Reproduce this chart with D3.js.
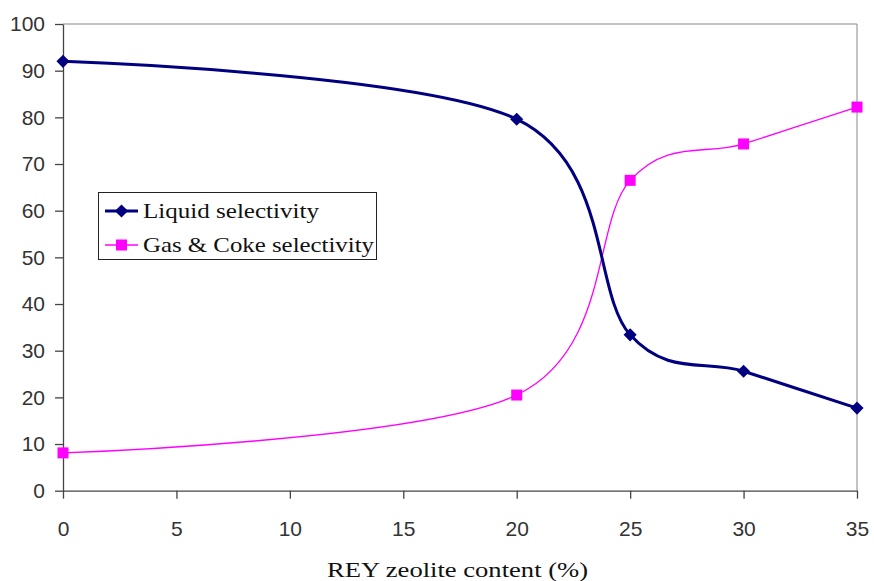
<!DOCTYPE html>
<html><head><meta charset="utf-8">
<script src="https://cdn.jsdelivr.net/npm/d3@7"></script>
<style>body{margin:0;background:#fff}</style>
</head><body>
<svg id="c" width="874" height="581"></svg>
<script>
const xValues = [0, 20, 25, 30, 35];
const liquid = [92, 79.6, 33.4, 25.6, 17.7];
const gasCoke = [8.1, 20.5, 66.5, 74.3, 82.2];
const xTicks = [0, 5, 10, 15, 20, 25, 30, 35];
const yTicks = [0, 10, 20, 30, 40, 50, 60, 70, 80, 90, 100];
const seriesNames = ["Liquid selectivity", "Gas & Coke selectivity"];
const xTitle = "REY zeolite content (%)";

const svg = d3.select("#c");
const x = d3.scaleLinear().domain([0, 35]).range([63, 857]);
const y = d3.scaleLinear().domain([0, 100]).range([490.7, 24]);

// plot border (top/right)
svg.append("path").attr("d", `M${x(0)},${y(100)}H${x(35)}V${y(0)}`)
  .attr("fill", "none").attr("stroke", "#888").attr("stroke-width", 1);

const xAxis = svg.append("g").attr("transform", `translate(0,${y(0)})`)
  .call(d3.axisBottom(x).tickValues(xTicks).tickSize(8).tickPadding(22).tickSizeOuter(0));
const yAxis = svg.append("g").attr("transform", `translate(${x(0)},0)`)
  .call(d3.axisLeft(y).tickValues(yTicks).tickSize(8).tickPadding(10).tickSizeOuter(0));
[xAxis, yAxis].forEach(g => {
  g.select(".domain").attr("stroke", "#444").attr("stroke-width", 1.3);
  g.selectAll(".tick line").attr("stroke", "#444").attr("stroke-width", 1.3);
  g.selectAll("text").attr("font-family", "Liberation Sans, Arial, sans-serif")
    .attr("font-size", 21).attr("fill", "#333");
});

const curve = d3.curveCatmullRom.alpha(0);
const line = d3.line().x(d => x(d[0])).y(d => y(d[1])).curve(curve);
const liqData = xValues.map((v, i) => [v, liquid[i]]);
const gasData = xValues.map((v, i) => [v, gasCoke[i]]);

svg.append("path").datum(gasData).attr("d", line).attr("fill", "none")
  .attr("stroke", "#FF00FF").attr("stroke-width", 1.3);
svg.append("path").datum(liqData).attr("d", line).attr("fill", "none")
  .attr("stroke", "#000080").attr("stroke-width", 3);

const diamond = d3.symbol().type(d3.symbolDiamond2).size(110);
svg.selectAll(".liqm").data(liqData).enter().append("path")
  .attr("transform", d => `translate(${x(d[0])},${y(d[1])})`)
  .attr("d", diamond).attr("fill", "#000080");
const sqSize = 11;
svg.selectAll(".gasm").data(gasData).enter().append("rect")
  .attr("x", d => x(d[0]) - sqSize / 2).attr("y", d => y(d[1]) - sqSize / 2)
  .attr("width", sqSize).attr("height", sqSize).attr("fill", "#FF00FF");

// legend
const lg = svg.append("g");
lg.append("rect").attr("x", 98.5).attr("y", 192.5).attr("width", 278).attr("height", 67)
  .attr("fill", "#fff").attr("stroke", "#222").attr("stroke-width", 1);
const lgY = [211, 245];
lg.append("line").attr("x1", 105).attr("x2", 138).attr("y1", lgY[0]).attr("y2", lgY[0])
  .attr("stroke", "#000080").attr("stroke-width", 3);
lg.append("path").attr("transform", `translate(121.5,${lgY[0]})`).attr("d", diamond).attr("fill", "#000080");
lg.append("line").attr("x1", 105).attr("x2", 138).attr("y1", lgY[1]).attr("y2", lgY[1])
  .attr("stroke", "#FF00FF").attr("stroke-width", 1.3);
lg.append("rect").attr("x", 121.5 - sqSize / 2).attr("y", lgY[1] - sqSize / 2)
  .attr("width", sqSize).attr("height", sqSize).attr("fill", "#FF00FF");
const lgW = [176, 231];
seriesNames.forEach((n, i) => {
  lg.append("text").attr("x", 143).attr("y", lgY[i] + 7).text(n)
    .attr("font-family", "Liberation Serif, Times New Roman, serif").attr("font-size", 21)
    .attr("textLength", lgW[i]).attr("lengthAdjust", "spacingAndGlyphs").attr("fill", "#111");
});

svg.append("text").attr("x", 327).attr("y", 577).text(xTitle)
  .attr("font-family", "Liberation Serif, Times New Roman, serif").attr("font-size", 20)
  .attr("textLength", 261).attr("lengthAdjust", "spacingAndGlyphs").attr("fill", "#111");
</script>
</body></html>
